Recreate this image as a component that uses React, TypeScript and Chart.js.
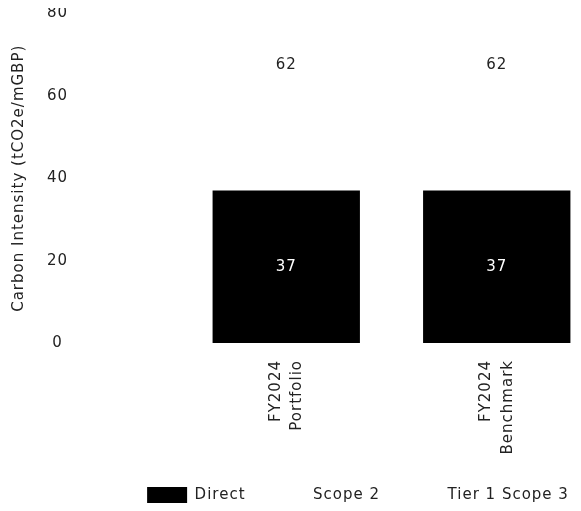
import React, { useEffect, useRef } from 'react';
import { Chart, registerables } from 'chart.js';

Chart.register(...registerables);

const categories = [
  ['FY2024', 'Portfolio'],
  ['FY2024', 'Benchmark'],
];
const seriesNames = ['Direct', 'Scope 2', 'Tier 1 Scope 3'];
const directValues = [37, 37];
const scope2Values = [5, 5];
const tier1Scope3Values = [20, 20];
const seriesColors = ['#000000', '#ffffff', '#ffffff'];
const yTickValues = [0, 20, 40, 60, 80];
const yAxisTitle = 'Carbon Intensity (tCO2e/mGBP)';

const FONT = '"DejaVu Sans", sans-serif';
const TEXT = '#222222';
const SPACING = '1px';

const spacingPlugin = {
  id: 'spacing',
  beforeUpdate(chart: any) {
    chart.ctx.letterSpacing = SPACING;
  },
  beforeDraw(chart: any) {
    chart.ctx.letterSpacing = SPACING;
  },
};

const valueLabels = {
  id: 'valueLabels',
  afterDatasetsDraw(chart: any) {
    const ctx = chart.ctx;
    const meta0 = chart.getDatasetMeta(0);
    const yScale = chart.scales.y;
    ctx.save();
    ctx.letterSpacing = SPACING;
    ctx.font = `15px ${FONT}`;
    ctx.textAlign = 'center';
    ctx.textBaseline = 'middle';
    meta0.data.forEach((bar: any, i: number) => {
      const v = chart.data.datasets[0].data[i];
      const p = bar.getProps(['x', 'y', 'base'], true);
      ctx.fillStyle = '#ffffff';
      ctx.fillText(String(v), p.x, (p.y + p.base) / 2);
    });
    chart.data.labels.forEach((_: any, i: number) => {
      const total = chart.data.datasets.reduce((s: number, ds: any) => s + ds.data[i], 0);
      const x = meta0.data[i].x;
      ctx.fillStyle = TEXT;
      ctx.fillText(String(total), x, yScale.getPixelForValue(total) - 23);
    });
    ctx.restore();
  },
};

export default function App() {
  const ref = useRef<HTMLCanvasElement | null>(null);

  useEffect(() => {
    if (!ref.current) return;
    const values = [directValues, scope2Values, tier1Scope3Values];
    const chart = new Chart(ref.current, {
      type: 'bar',
      data: {
        labels: categories as any,
        datasets: seriesNames.map((name, k) => ({
          label: name,
          data: values[k],
          backgroundColor: seriesColors[k],
          borderWidth: 0,
          barPercentage: 0.7,
          categoryPercentage: 1,
        })),
      },
      options: {
        animation: false,
        responsive: true,
        maintainAspectRatio: false,
        layout: { padding: 0 },
        plugins: {
          legend: {
            position: 'bottom',
            labels: {
              color: TEXT,
              font: { family: FONT, size: 15 },
              boxWidth: 40,
              boxHeight: 16,
              padding: 20,
            },
          },
          tooltip: { enabled: false },
        },
        scales: {
          x: {
            stacked: true,
            grid: { display: false, drawTicks: false },
            border: { display: false },
            ticks: {
              color: TEXT,
              font: { family: FONT, size: 15, lineHeight: 1.45 },
              minRotation: 90,
              maxRotation: 90,
              padding: 17,
              labelOffset: -10.5,
            },
            afterFit: (s: any) => {
              s.height = 124;
            },
          },
          y: {
            stacked: true,
            min: 0,
            max: 80,
            grid: { display: false, drawTicks: false },
            border: { display: false },
            afterBuildTicks: (s: any) => {
              s.ticks = yTickValues.map((v) => ({ value: v }));
            },
            ticks: {
              color: TEXT,
              font: { family: FONT, size: 15 },
              crossAlign: 'center',
              padding: 113,
            },
            title: {
              display: true,
              text: yAxisTitle,
              color: TEXT,
              font: { family: FONT, size: 15 },
              padding: 2,
            },
            afterFit: (s: any) => {
              s.width = 173;
              s.paddingTop = 9.5;
              s.paddingBottom = 8;
            },
          },
          yRight: {
            type: 'linear',
            position: 'right',
            grid: { display: false, drawTicks: false },
            border: { display: false },
            ticks: { display: false },
            afterFit: (s: any) => {
              s.width = 106;
              s.paddingTop = 0;
              s.paddingBottom = 0;
            },
          },
        },
      },
      plugins: [spacingPlugin, valueLabels],
    });
    return () => chart.destroy();
  }, []);

  return (
    <div style={{ width: 565, height: 503, overflowX: 'clip', position: 'relative' }}>
      <div style={{ position: 'absolute', left: 0, top: -4, width: 700, height: 509 }}>
        <canvas ref={ref} />
      </div>
    </div>
  );
}
